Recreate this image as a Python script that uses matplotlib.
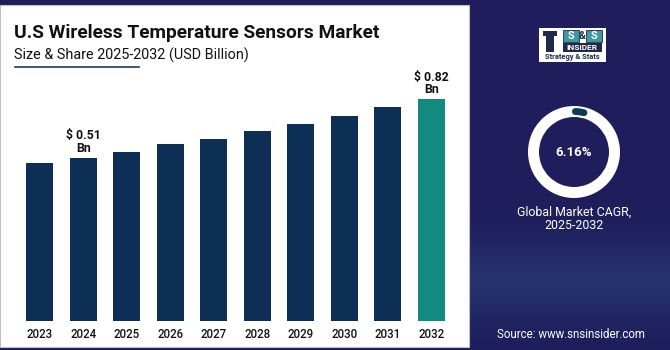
import numpy as np
import matplotlib
matplotlib.use("Agg")
import matplotlib.pyplot as plt
from matplotlib.patches import Rectangle, Wedge
from matplotlib.colors import LinearSegmentedColormap

plt.rcParams['font.family'] = ['Roboto', 'DejaVu Sans']

# ---- data ----
years = ["2023", "2024", "2025", "2026", "2027", "2028", "2029", "2030", "2031", "2032"]
values = [0.48, 0.51, 0.54, 0.58, 0.61, 0.65, 0.69, 0.73, 0.78, 0.82]
labelled = {"2024": "$ 0.51\nBn", "2032": "$ 0.82\nBn"}
cagr_value = 6.16
title = "U.S Wireless Temperature Sensors Market"
subtitle = "Size & Share 2025-2032 (USD Billion)"
cagr_caption = "Global Market CAGR,\n2025-2032"
source = "Source: www.snsinsider.com"

NAVY_BG = "#1f1d5c"
BAR = "#0d2f56"
TEAL = "#128a80"

W, H = 670, 350
fig = plt.figure(figsize=(W / 100, H / 100), dpi=100)
fig.patch.set_facecolor(NAVY_BG)

def fx(px):
    return px / W

def fy(py):
    return 1 - py / H

# background gradient for right panel
bg = fig.add_axes([0, 0, 1, 1], zorder=0)
bg.set_axis_off()
rows = np.arange(350)
grad = np.exp(-((rows - 280) / 40.0) ** 2)[:, None]
cmap = LinearSegmentedColormap.from_list("g", [NAVY_BG, "#25326c"])
bg.imshow(grad, aspect="auto", cmap=cmap, extent=[0, 1, 0, 1], vmin=0, vmax=1)
bg.set_xlim(0, 1)
bg.set_ylim(0, 1)
# white panel
bg.add_patch(Rectangle((0, fy(347)), fx(469), fy(5) - fy(347), facecolor="white",
                       edgecolor="#bfbfbf", linewidth=0.8, zorder=2))

# title texts
fig.text(fx(14), fy(38), title, fontsize=13.8, fontweight="bold", color="#111111",
         ha="left", va="baseline", zorder=5)
fig.text(fx(14), fy(60), subtitle, fontsize=10.4, color="#111111", ha="left",
         va="baseline", zorder=5)
bg.plot([fx(15), fx(139)], [fy(67), fy(67)], color="#1b3a6b", linewidth=1.2, zorder=5)

# ---- bar chart ----
base = -0.355
top = 0.869
ax = fig.add_axes([fx(18), fy(320.7), fx(453) - fx(18), fy(90) - fy(320.7)], zorder=3)
ax.set_facecolor("none")
x = np.arange(len(years))
colors = [BAR] * (len(years) - 1) + [TEAL]
heights = [v - base for v in values]
ax.bar(x, heights, bottom=base, width=0.627, color=colors, zorder=3)
ax.set_xlim(-0.5, len(years) - 0.5)
ax.set_ylim(base, top)
ax.set_xticks(x)
ax.set_xticklabels(years, fontsize=8.3, fontweight="medium", color="#111111")
ax.tick_params(axis="x", length=0, pad=5)
ax.set_yticks([])
for s in ax.spines.values():
    s.set_visible(False)
for i, (yr, v) in enumerate(zip(years, values)):
    if yr in labelled:
        ax.annotate(labelled[yr], (i, v), xytext=(0, 2), textcoords="offset points",
                    ha="center", va="bottom", fontsize=8.8, fontweight="bold",
                    color="#111111", linespacing=0.95)

# ---- right panel ----
# logo
bg.add_patch(Rectangle((fx(539), fy(62)), fx(67), fy(28) - fy(62), facecolor="white",
                       edgecolor="none", zorder=4))
for bx in (563, 586):
    bg.add_patch(Rectangle((fx(bx), fy(42)), fx(15.5), fy(29.5) - fy(42),
                           facecolor="#3a9aa0", edgecolor="#1e2a4a", linewidth=0.6,
                           zorder=5))
    bg.text(fx(bx + 7.75), fy(35.8), "S", fontsize=8, fontweight="bold", color="white",
            ha="center", va="center", zorder=6)
bg.text(fx(582.3), fy(35.8), "&", fontsize=7.5, fontweight="bold", color="#1e2a4a",
        ha="center", va="center", zorder=6)
bg.add_patch(Rectangle((fx(563), fy(51.5)), fx(38.5), fy(43) - fy(51.5),
                       facecolor="#1e2a4a", edgecolor="none", zorder=5))
bg.text(fx(582.3), fy(47.3), "INSIDER", fontsize=6, fontweight="bold", color="white",
        ha="center", va="center", zorder=6)
bg.text(fx(572.5), fy(57), "Strategy & Stats", fontsize=5.4, fontweight="bold",
        color="#1e2a4a", ha="center", va="center", zorder=6)
bg.add_patch(Rectangle((fx(546), fy(52)), fx(8), fy(35) - fy(52), facecolor="#1e2a4a",
                       edgecolor="none", zorder=5))
bg.add_patch(Rectangle((fx(543), fy(36)), fx(14), fy(31) - fy(36), facecolor="#1e2a4a",
                       edgecolor="none", zorder=5))

# donut
dax = fig.add_axes([fx(524), fy(202), fx(100), fy(102) - fy(202)], zorder=6)
dax.set_xlim(-50, 50)
dax.set_ylim(-50, 50)
dax.set_aspect("equal")
dax.set_axis_off()
dax.add_patch(Wedge((0, 0), 46, 0, 360, width=11, facecolor="white", edgecolor="none"))
span = 360 * cagr_value / 100
start = 93
theta = np.radians(np.linspace(start - 5, start - span + 5, 30))
dax.plot(40.5 * np.cos(theta), 40.5 * np.sin(theta), color="#0b3e4e", linewidth=5,
         solid_capstyle="round")
dax.text(0, 0, f"{cagr_value:.2f}%", fontsize=9.5, fontweight="bold", color="white",
         ha="center", va="center")

fig.text(fx(574), fy(219), cagr_caption, fontsize=8.9, color="white", ha="center",
         va="center", linespacing=1.05, zorder=6)
fig.text(fx(571), fy(334), source, fontsize=8.3, color="white", ha="center",
         va="center", zorder=6)

fig.savefig("out.png", dpi=100, facecolor=fig.get_facecolor())
